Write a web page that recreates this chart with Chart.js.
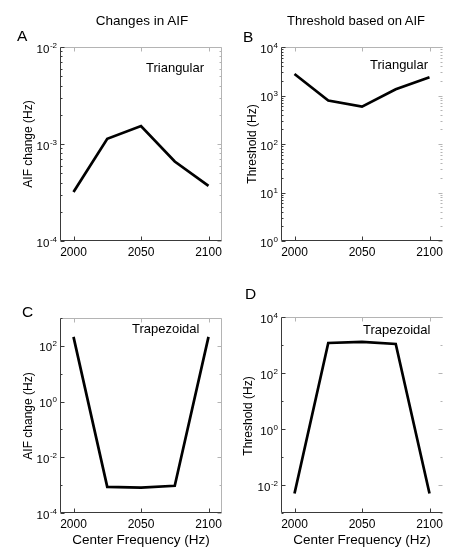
<!DOCTYPE html>
<html><head><meta charset="utf-8">
<script src="https://cdn.jsdelivr.net/npm/chart.js@4.4.0/dist/chart.umd.min.js"></script>
<style>
html,body{margin:0;padding:0;background:#fff;}
#wrap{position:relative;width:461px;height:559px;overflow:hidden;font-family:"Liberation Sans",Arial,sans-serif;color:#000;}
canvas{position:absolute;}
.t{position:absolute;white-space:nowrap;line-height:1;}
.ttl{font-size:13.5px;}
.let{font-size:15.5px;}
.in{font-size:13px;}
.yl{font-size:12px;transform:translate(-50%,-50%) rotate(-90deg);}
.xl{font-size:13.5px;transform:translateX(-50%);}
</style></head><body><div id="wrap">
<canvas id="cA" width="230" height="280" style="left:0;top:0;width:230px;height:280px"></canvas>
<canvas id="cB" width="231" height="280" style="left:230px;top:0;width:231px;height:280px"></canvas>
<canvas id="cC" width="230" height="279" style="left:0;top:280px;width:230px;height:279px"></canvas>
<canvas id="cD" width="231" height="279" style="left:230px;top:280px;width:231px;height:279px"></canvas>

<div class="t ttl" style="left:142px;top:14px;transform:translateX(-50%)">Changes in AIF</div>
<div class="t ttl" style="left:356px;top:14px;transform:translateX(-50%);font-size:13px">Threshold based on AIF</div>
<div class="t let" style="left:17px;top:28px">A</div>
<div class="t let" style="left:243px;top:29px">B</div>
<div class="t let" style="left:22px;top:304px">C</div>
<div class="t let" style="left:245px;top:286px">D</div>
<div class="t in" style="left:146px;top:61px">Triangular</div>
<div class="t in" style="left:370px;top:58px">Triangular</div>
<div class="t in" style="left:132px;top:322px">Trapezoidal</div>
<div class="t in" style="left:363px;top:323px">Trapezoidal</div>
<div class="t yl" style="left:28px;top:144px">AIF change (Hz)</div>
<div class="t yl" style="left:252px;top:144px">Threshold (Hz)</div>
<div class="t yl" style="left:28px;top:416px">AIF change (Hz)</div>
<div class="t yl" style="left:248px;top:416px">Threshold (Hz)</div>
<div class="t xl" style="left:141px;top:533px">Center Frequency (Hz)</div>
<div class="t xl" style="left:362px;top:533px">Center Frequency (Hz)</div>
</div>
<script>
// ---- data ----
const centerFrequency = [2000, 2025, 2050, 2075, 2100];
const aifChangeTriangular = [3.2e-4, 1.13e-3, 1.53e-3, 6.6e-4, 3.7e-4];
const thresholdTriangular = [2780, 790, 590, 1340, 2370];
const aifChangeTrapezoidal = [210, 8.7e-4, 8.1e-4, 9.5e-4, 210];
const thresholdTrapezoidal = [5e-3, 1180, 1290, 1090, 5e-3];
const xTickLabels = [2000, 2050, 2100];
const yTicksA = [1e-4, 1e-3, 1e-2];
const yTicksB = [1e0, 1e1, 1e2, 1e3, 1e4];
const yTicksC = [1e-4, 1e-2, 1e0, 1e2];
const yTicksD = [1e-2, 1e0, 1e2, 1e4];

const FONT = '"Liberation Sans", Arial, sans-serif';
const DARK = '#3a3a3a', LIGHT = '#b4b4b4';

function hline(ctx, x1, y1, x2, y2) { ctx.beginPath(); ctx.moveTo(x1, y1); ctx.lineTo(x2, y2); ctx.stroke(); }

const deco = {
  id: 'deco',
  afterDraw(chart) {
    const o = chart.options.plugins.deco;
    const { ctx, chartArea: a, scales: { x, y } } = chart;
    ctx.save();
    ctx.lineWidth = 1;
    const L = Math.round(a.left) + 0.5, R = Math.round(a.right) - 0.5;
    const T = Math.round(a.top) + 0.5, B = Math.round(a.bottom) - 0.5;
    ctx.strokeStyle = LIGHT;
    hline(ctx, L, T, R, T);
    if (o.rightBorder) hline(ctx, R, T, R, B);
    const dMin = Math.round(Math.log10(y.min)), dMax = Math.round(Math.log10(y.max));
    const isLabel = v => o.labels.some(l => Math.abs(Math.log10(l) - Math.log10(v)) < 1e-6);
    for (let d = dMin; d <= dMax; d++) {
      for (let k = 1; k <= 9; k++) {
        if (k > 1 && !o.fullMinor) continue;
        const v = k * Math.pow(10, d);
        if (v < y.min * 0.999 || v > y.max * 1.001) continue;
        const py = Math.round(y.getPixelForValue(v)) + 0.5;
        const len = isLabel(v) ? 4 : 2;
        ctx.strokeStyle = DARK; hline(ctx, L, py, L + len, py);
        ctx.strokeStyle = LIGHT; hline(ctx, R, py, R - len, py);
      }
    }
    for (const v of xTickLabels) {
      const px = Math.round(x.getPixelForValue(v)) + 0.5;
      ctx.strokeStyle = DARK; hline(ctx, px, B, px, B - 4);
      ctx.strokeStyle = LIGHT; hline(ctx, px, T, px, T + 4);
    }
    ctx.strokeStyle = DARK;
    hline(ctx, L, T, L, B);
    hline(ctx, L, B, R, B);
    ctx.fillStyle = '#000';
    ctx.textBaseline = 'alphabetic';
    ctx.textAlign = 'left';
    for (const v of o.labels) {
      const e = Math.round(Math.log10(v));
      const py = y.getPixelForValue(v);
      ctx.font = '8px ' + FONT;
      const es = String(e);
      const ew = ctx.measureText(es).width;
      ctx.font = '11.5px ' + FONT;
      const bw = ctx.measureText('10').width;
      const xr = a.left - 3;
      const ex = xr - ew, bx = ex - bw - 0.5;
      ctx.fillText('10', bx, py + 5.5);
      ctx.font = '8px ' + FONT;
      ctx.fillText(es, ex, py + 0.5);
    }
    ctx.restore();
  }
};

function makePanel(id, values, yMin, yMax, labels, box, fullMinor, rightBorder) {
  const cv = document.getElementById(id);
  new Chart(cv, {
    type: 'line',
    data: {
      datasets: [{
        data: centerFrequency.map((f, i) => ({ x: f, y: values[i] })),
        borderColor: '#000', borderWidth: 2.7, pointRadius: 0, tension: 0, fill: false,
        borderJoinStyle: 'miter', borderCapStyle: 'butt'
      }]
    },
    options: {
      responsive: false, animation: false, events: [],
      layout: { padding: { left: 0, top: box.top, right: cv.width - box.right, bottom: 0 } },
      plugins: {
        legend: { display: false }, tooltip: { enabled: false },
        deco: { labels, fullMinor, rightBorder }
      },
      scales: {
        x: {
          type: 'linear', min: 1990, max: 2110,
          afterBuildTicks: s => { s.ticks = xTickLabels.map(v => ({ value: v })); },
          afterFit: s => { s.height = cv.height - box.bottom; },
          grid: { display: false, drawTicks: false }, border: { display: false },
          ticks: { font: { family: FONT, size: 12 }, color: '#000', padding: 4, maxRotation: 0, autoSkip: false,
                   callback: v => String(v) }
        },
        y: {
          type: 'logarithmic', min: yMin, max: yMax,
          afterBuildTicks: s => { s.ticks = labels.map(v => ({ value: v })); },
          afterFit: s => { s.width = box.left; },
          grid: { display: false, drawTicks: false }, border: { display: false },
          ticks: { display: false }
        }
      }
    },
    plugins: [deco]
  });
}

makePanel('cA', aifChangeTriangular, 1e-4, 1e-2, yTicksA, { left: 60, right: 222, top: 47, bottom: 241 }, true, true);
makePanel('cB', thresholdTriangular, 1e0, 1e4, yTicksB, { left: 51, right: 213, top: 47, bottom: 241 }, true, false);
makePanel('cC', aifChangeTrapezoidal, 1e-4, 1e3, yTicksC, { left: 60, right: 222, top: 38, bottom: 233 }, false, true);
makePanel('cD', thresholdTrapezoidal, 1e-3, 1e4, yTicksD, { left: 51, right: 213, top: 37, bottom: 233 }, false, false);
</script>
</body></html>
